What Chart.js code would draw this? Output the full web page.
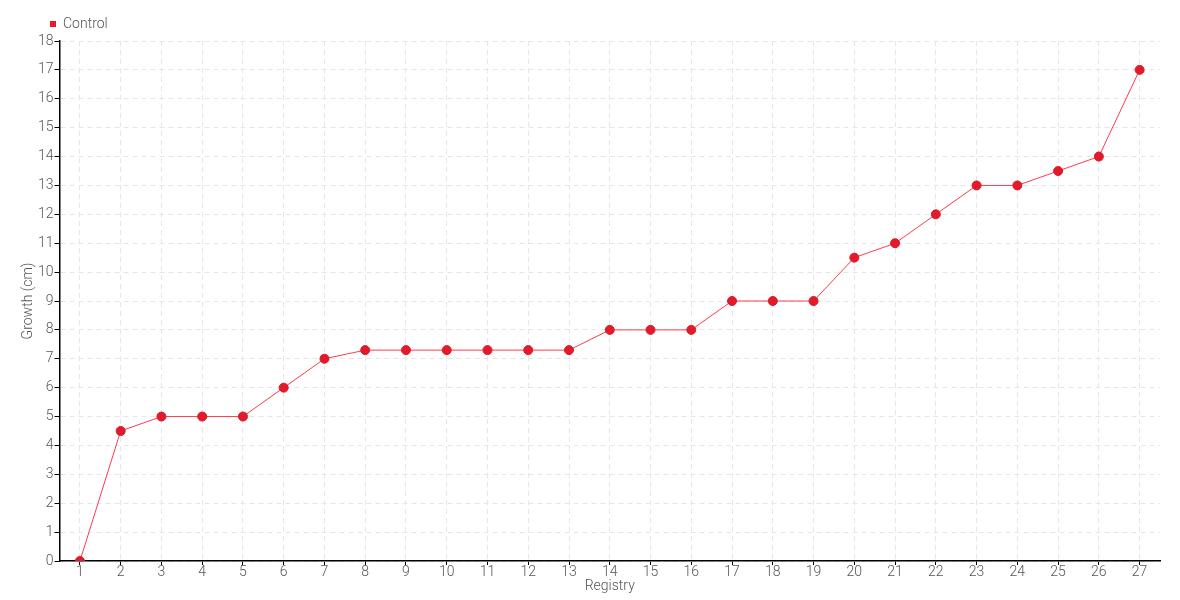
<!DOCTYPE html>
<html>
<head>
<meta charset="utf-8">
<script src="https://cdn.jsdelivr.net/npm/chart.js@4"></script>
<style>
    html, body { margin: 0; padding: 0; background: #fff; }
    #wrap { width: 1180px; height: 600px; }
</style>
</head>
<body>
<div id="wrap"><canvas id="growth_chart"></canvas></div>
<script>
'use strict';
const registry = ['1', '2', '3', '4', '5', '6', '7', '8', '9', '10', '11', '12', '13', '14',
    '15', '16', '17', '18', '19', '20', '21', '22', '23', '24', '25', '26', '27'];
const controlGrowth = [0, 4.5, 5, 5, 5, 6, 7, 7.3, 7.3, 7.3, 7.3, 7.3, 7.3, 8,
    8, 8, 9, 9, 9, 10.5, 11, 12, 13, 13, 13.5, 14, 17];
const yTicks = [0, 1, 2, 3, 4, 5, 6, 7, 8, 9, 10, 11, 12, 13, 14, 15, 16, 17, 18];

const fontFamily = 'Roboto, sans-serif';
const labelColor = '#555';
const labelFont = { family: fontFamily, size: 14, weight: '300', lineHeight: 1 };

let ctx = document.getElementById('growth_chart').getContext('2d');
let growthChart = new Chart(ctx, {
    type: 'line',
    data: {
        labels: registry,
        datasets: [
            {
                label: 'Control',
                data: controlGrowth,
                borderColor: '#ff3b4e',
                backgroundColor: '#e41a2b',
                borderWidth: 1,
                pointRadius: 4.5,
                pointHoverRadius: 5,
                pointBorderWidth: 1,
                pointBorderColor: '#d51a29',
                tension: 0,
            }],
    },
    options: {
        responsive: true,
        maintainAspectRatio: false,
        animation: false,
        layout: {
            padding: { top: 10, right: 20, left: 19, bottom: 7 },
        },
        plugins: {
            legend: {
                display: true,
                position: 'top',
                align: 'start',
                labels: {
                    usePointStyle: true,
                    boxWidth: 6,
                    boxHeight: 6,
                    padding: 7,
                    color: labelColor,
                    font: { family: fontFamily, size: 14, weight: '300' },
                    generateLabels: function (chart) {
                        return [{
                            text: 'Control',
                            fillStyle: '#e41a2b',
                            strokeStyle: '#e41a2b',
                            lineWidth: 0,
                            pointStyle: 'rect',
                            fontColor: labelColor,
                            datasetIndex: 0,
                        }];
                    },
                },
            },
            tooltip: { enabled: false },
        },
        scales: {
            x: {
                offset: true,
                grid: {
                    offset: false,
                    color: '#e6e6e6',
                    tickColor: '#000',
                    tickLength: 4,
                    tickBorderDash: [],
                },
                border: { color: '#000', width: 1.5, dash: [5, 4] },
                ticks: {
                    color: labelColor,
                    font: labelFont,
                    padding: 0,
                    maxRotation: 0,
                    autoSkip: false,
                },
                title: {
                    display: true,
                    text: 'Registry',
                    color: labelColor,
                    font: labelFont,
                    padding: { top: 0, bottom: 0 },
                },
            },
            y: {
                min: 0,
                max: 18,
                afterBuildTicks: function (axis) {
                    axis.ticks = yTicks.map(v => ({ value: v }));
                },
                grid: {
                    color: '#e6e6e6',
                    tickColor: '#000',
                    tickLength: 5,
                    tickBorderDash: [],
                },
                border: { color: '#000', width: 1.5, dash: [5, 4] },
                ticks: {
                    color: labelColor,
                    font: labelFont,
                    padding: 1,
                },
                title: {
                    display: true,
                    text: 'Growth (cm)',
                    color: labelColor,
                    font: labelFont,
                    padding: 2,
                },
            },
        },
    },
    plugins: [{
        id: 'legendShift',
        afterLayout: function (chart) {
            // legend sits over the plot area, not at the canvas edge
            chart.legend.left += 24;
        },
    }],
});
</script>
</body>
</html>
